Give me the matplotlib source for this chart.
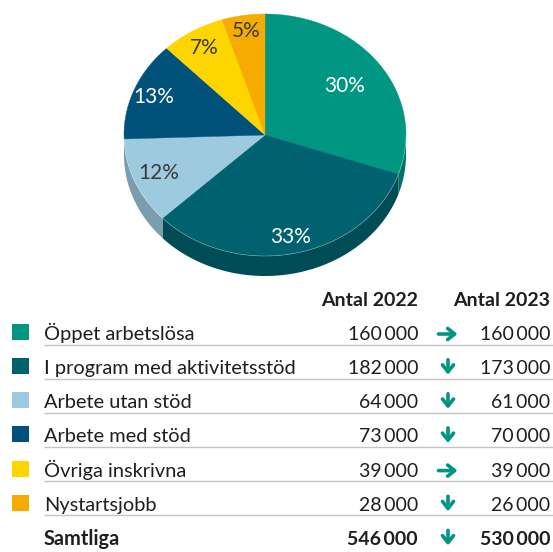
import numpy as np
import matplotlib.pyplot as plt
from matplotlib.patches import Polygon, Rectangle
import matplotlib.colors as mcolors

#Data
categories = ['Öppet arbetslösa', 'I program med aktivitetsstöd', 'Arbete utan stöd',
              'Arbete med stöd', 'Övriga inskrivna', 'Nystartsjobb']
antal_2022 = [160000, 182000, 64000, 73000, 39000, 28000]
antal_2023 = [160000, 173000, 61000, 70000, 39000, 26000]
total_label = 'Samtliga'
total_2022 = 546000
total_2023 = 530000
headers = ['Antal 2022', 'Antal 2023']

#Styles
colors = ['#009682', '#00626e', '#9dcadf', '#00527a', '#ffd500', '#f5ab00']
label_colors = ['white', 'white', '#3a3a3a', 'white', '#3a3a3a', '#3a3a3a']
label_radius = [0.69, 0.86, 0.82, 0.85, 0.84, 0.87]
arrow_color = '#009682'
text_color = '#1e1e1e'
FONT = ['Lato', 'DejaVu Sans']

#Pie geometry in pixels
cx, cy, rx, ry, depth = 265, 135, 141, 121, 20


def darker(c, f=0.78):
    r, g, b = mcolors.to_rgb(c)
    return (r * f, g * f, b * f)


def rim(t1, t2, n=80):
    t = np.radians(np.linspace(t1, t2, n))
    return cx + rx * np.cos(t), cy - ry * np.sin(t)


def fmt(v):
    return f'{v:,}'.replace(',', '\u2009')


fig = plt.figure(figsize=(5.53, 5.52), dpi=100)
ax = fig.add_axes([0, 0, 1, 1])
ax.set_xlim(0, 553)
ax.set_ylim(552, 0)
ax.axis('off')

#Slice angles, starting at 12 o'clock going clockwise
vals = np.array(antal_2023, dtype=float)
fracs = vals / vals.sum()
ends = 90 - 360 * np.cumsum(fracs)
starts = np.concatenate([[90], ends[:-1]])

#Sides first (front half only)
for hi, lo, col in zip(starts, ends, colors):
    for a, b in [(-180, 0), (-540, -360)]:
        s, e = max(lo, a), min(hi, b)
        if e > s:
            x, y = rim(e, s)
            pts = np.column_stack([np.concatenate([x, x[::-1]]),
                                   np.concatenate([y, y[::-1] + depth])])
            ax.add_patch(Polygon(pts, closed=True, fc=darker(col), ec='none'))

#Top faces
for hi, lo, col in zip(starts, ends, colors):
    x, y = rim(hi, lo)
    pts = np.column_stack([np.concatenate([[cx], x]), np.concatenate([[cy], y])])
    ax.add_patch(Polygon(pts, closed=True, fc=col, ec=col, lw=0.3))

#Faint rim highlight
x, y = rim(-180, 0)
ax.plot(x, y, color='white', lw=0.5, alpha=0.35)

#Percent labels
for hi, lo, f, lc, lr in zip(starts, ends, fracs, label_colors, label_radius):
    mid = np.radians((hi + lo) / 2)
    ax.text(cx + lr * rx * np.cos(mid), cy - lr * ry * np.sin(mid), f'{round(f * 100)}%',
            ha='center', va='center', color=lc, fontsize=15, family=FONT)

#Table
col1_x, col2_x, arrow_x = 418, 550, 448
base0, step = 340, 34.15
fs = 14
fs_label = 14.4
ax.text(col1_x, 306, headers[0], ha='right', va='baseline', fontsize=fs,
        fontweight='bold', color=text_color, family=FONT)
ax.text(col2_x, 306, headers[1], ha='right', va='baseline', fontsize=fs,
        fontweight='bold', color=text_color, family=FONT)

rows = list(zip(categories, antal_2022, antal_2023, colors)) + \
    [(total_label, total_2022, total_2023, None)]
arrow_kw = dict(arrowstyle='->,head_length=0.5,head_width=0.4', color=arrow_color,
                lw=2.6, shrinkA=0, shrinkB=0)
for i, (name, v22, v23, col) in enumerate(rows):
    yb = base0 + step * i
    weight = 'bold' if col is None else 'normal'
    if col is not None:
        ax.add_patch(Rectangle((12, yb - 16), 16.5, 16, fc=col, ec='none'))
        ax.plot([44, 553], [yb + 4.5, yb + 4.5], color='#c4c4c4', lw=1.0,
                solid_capstyle='butt')
    ax.text(44, yb, name, ha='left', va='baseline', fontsize=fs_label, fontweight=weight,
            color=text_color, family=FONT)
    ax.text(col1_x, yb, fmt(v22), ha='right', va='baseline', fontsize=fs,
            fontweight=weight, color=text_color, family=FONT)
    ax.text(col2_x, yb, fmt(v23), ha='right', va='baseline', fontsize=fs,
            fontweight=weight, color=text_color, family=FONT)
    if v23 == v22:
        ax.annotate('', xy=(arrow_x + 9.5, yb - 6), xytext=(arrow_x - 9.5, yb - 6),
                    arrowprops=arrow_kw)
    else:
        sign = 1 if v23 < v22 else -1
        ax.annotate('', xy=(arrow_x, yb - 7 + 7.5 * sign), xytext=(arrow_x, yb - 7 - 7.5 * sign),
                    arrowprops=arrow_kw)

fig.savefig('out.png', dpi=100)
